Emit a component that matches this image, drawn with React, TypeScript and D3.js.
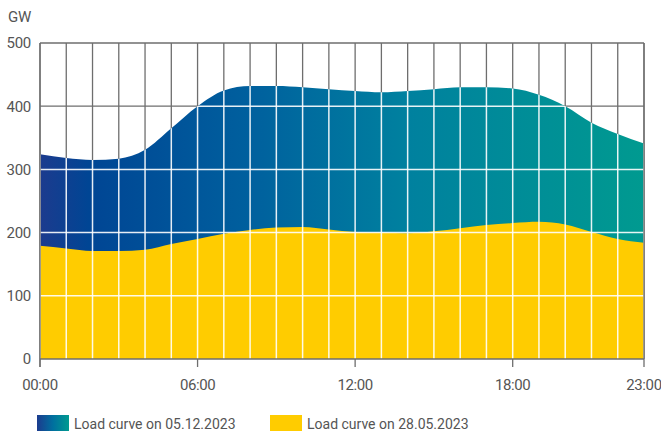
import React from "react";
import * as d3 from "d3";

const hours: number[] = d3.range(0, 24);
const winterLoad: number[] = [324, 318, 315, 317, 331, 365, 400, 425, 432, 432, 430, 427, 424, 422, 424, 427, 430, 430, 428, 418, 400, 374, 356, 341];
const summerLoad: number[] = [179, 175, 171, 171, 173, 182, 190, 198, 204, 208, 209, 205, 201, 200, 199, 202, 207, 212, 215, 217, 213, 201, 190, 184];
const yTicks: number[] = [0, 100, 200, 300, 400, 500];
const xTickHours: number[] = [0, 6, 12, 18, 23];
const xTickLabels: string[] = ["00:00", "06:00", "12:00", "18:00", "23:00"];
const legendLabels: string[] = ["Load curve on 05.12.2023", "Load curve on 28.05.2023"];

const W = 661;
const H = 431;
const M = { left: 40, right: 17, top: 43, bottom: 72 };

export default function App() {
  const x = d3.scaleLinear().domain([0, 23]).range([M.left, W - M.right]);
  const y = d3.scaleLinear().domain([0, 500]).range([H - M.bottom, M.top]);

  const areaW = d3
    .area<number>()
    .x((_, i) => x(hours[i]))
    .y0(y(0))
    .y1((d) => y(d))
    .curve(d3.curveMonotoneX);
  const blueD = areaW(winterLoad) || "";
  const yellowD = areaW(summerLoad) || "";

  const font = "Roboto, 'Noto Sans', sans-serif";
  const textColor = "#555";

  const gridLines = (stroke: string, width: number) => (
    <g>
      {yTicks.filter((t) => t > 0).map((t) => (
        <line key={"h" + t} x1={x(0)} x2={x(23)} y1={y(t)} y2={y(t)} stroke={stroke} strokeWidth={width} />
      ))}
      {hours.map((h) => (
        <line key={"v" + h} x1={x(h)} x2={x(h)} y1={y(500)} y2={y(0)} stroke={stroke} strokeWidth={width} />
      ))}
    </g>
  );

  return (
    <svg width={W} height={H} style={{ position: "absolute", left: 0, top: 0, display: "block" }}>
      <defs>
        <linearGradient id="blueGrad" gradientUnits="userSpaceOnUse" x1={x(0)} x2={x(23)} y1={0} y2={0}>
          <stop offset="0%" stopColor="#1c3b8e" />
          <stop offset="8%" stopColor="#004594" />
          <stop offset="35%" stopColor="#00609e" />
          <stop offset="60%" stopColor="#00809f" />
          <stop offset="100%" stopColor="#009a90" />
        </linearGradient>
        <linearGradient id="legendGrad" x1="0" x2="1" y1="0" y2="0">
          <stop offset="0%" stopColor="#1c3b8e" />
          <stop offset="50%" stopColor="#00709f" />
          <stop offset="100%" stopColor="#009a90" />
        </linearGradient>
        <clipPath id="areaClip">
          <path d={blueD} />
        </clipPath>
      </defs>

      <rect x={0} y={0} width={W} height={H} fill="#fff" />

      {gridLines("#6e6e6e", 1.3)}

      <path d={blueD} fill="url(#blueGrad)" />
      <path d={yellowD} fill="#ffcc00" />

      <g clipPath="url(#areaClip)">{gridLines("rgba(255,255,255,0.9)", 1.5)}</g>

      <line x1={x(0)} x2={x(0)} y1={y(500)} y2={y(0) + 8} stroke="#6e6e6e" strokeWidth={1.3} />
      <line x1={x(23)} x2={x(23)} y1={y(500)} y2={y(0)} stroke="#6e6e6e" strokeWidth={1.3} />
      <line x1={x(0)} x2={x(23)} y1={y(0)} y2={y(0)} stroke="#6e6e6e" strokeWidth={1.3} />
      {xTickHours.map((h) => (
        <line key={"t" + h} x1={x(h)} x2={x(h)} y1={y(0)} y2={y(0) + 8} stroke="#6e6e6e" strokeWidth={1.3} />
      ))}

      {yTicks.map((t) => (
        <text key={"yl" + t} x={31} y={y(t)} dy="0.36em" textAnchor="end" fontFamily={font} fontSize={15} letterSpacing={-0.3} fill={textColor}>
          {t}
        </text>
      ))}
      <text x={8} y={22} fontFamily={font} fontSize={15} letterSpacing={-0.3} fill={textColor}>GW</text>

      {xTickHours.map((h, i) => (
        <text key={"xl" + h} x={x(h)} y={390} textAnchor="middle" fontFamily={font} fontSize={15} letterSpacing={-0.4} fill={textColor}>
          {xTickLabels[i]}
        </text>
      ))}

      <rect x={37} y={415} width={32} height={16} fill="url(#legendGrad)" />
      <text x={74} y={429} fontFamily={font} fontSize={14} fill={textColor}>{legendLabels[0]}</text>
      <rect x={270} y={415} width={32} height={16} fill="#ffcc00" />
      <text x={307} y={429} fontFamily={font} fontSize={14} fill={textColor}>{legendLabels[1]}</text>
    </svg>
  );
}
